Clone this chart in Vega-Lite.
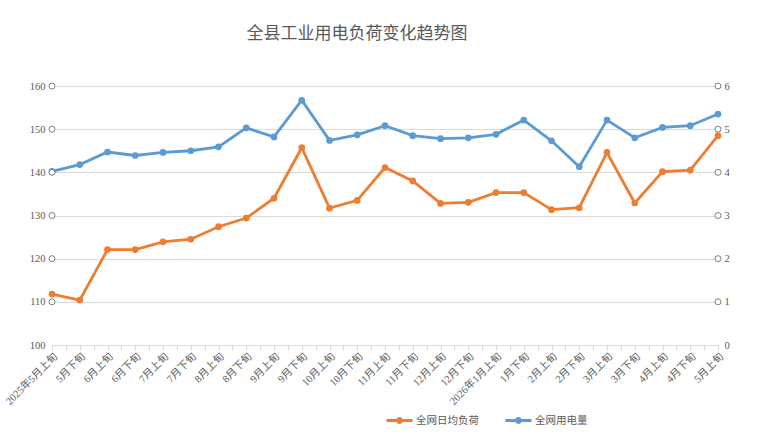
{
  "$schema": "https://vega.github.io/schema/vega-lite/v6.json",
  "width": 666,
  "height": 259,
  "autosize": "none",
  "padding": {"left": 52, "top": 86, "right": 50, "bottom": 94},
  "background": "white",
  "title": {
    "text": "全县工业用电负荷变化趋势图",
    "fontSize": 17,
    "font": "Noto Sans CJK SC",
    "fontWeight": "normal",
    "color": "#595959",
    "anchor": "middle",
    "dx": -28,
    "offset": 38
  },
  "config": {
    "view": {"stroke": null},
    "axis": {
      "labelColor": "#595959",
      "labelFont": "Liberation Serif, Noto Sans CJK SC",
      "labelFontSize": 10.5,
      "title": null,
      "domainColor": "#d9d9d9",
      "gridColor": "#d9d9d9",
      "tickColor": "#d9d9d9"
    }
  },
  "layer": [
    {
      "data": {
        "values": [
          {"t": "2025年5月上旬", "load": 111.8, "power": 4.02},
          {"t": "5月下旬", "load": 110.4, "power": 4.18},
          {"t": "6月上旬", "load": 122.1, "power": 4.47},
          {"t": "6月下旬", "load": 122.1, "power": 4.39},
          {"t": "7月上旬", "load": 123.9, "power": 4.46},
          {"t": "7月下旬", "load": 124.5, "power": 4.5},
          {"t": "8月上旬", "load": 127.4, "power": 4.59},
          {"t": "8月下旬", "load": 129.4, "power": 5.03},
          {"t": "9月上旬", "load": 134.0, "power": 4.82},
          {"t": "9月下旬", "load": 145.7, "power": 5.67},
          {"t": "10月上旬", "load": 131.7, "power": 4.74},
          {"t": "10月下旬", "load": 133.5, "power": 4.87},
          {"t": "11月上旬", "load": 141.1, "power": 5.08},
          {"t": "11月下旬", "load": 138.0, "power": 4.85},
          {"t": "12月上旬", "load": 132.8, "power": 4.78},
          {"t": "12月下旬", "load": 133.05, "power": 4.8},
          {"t": "2026年1月上旬", "load": 135.3, "power": 4.88},
          {"t": "1月下旬", "load": 135.3, "power": 5.21},
          {"t": "2月上旬", "load": 131.35, "power": 4.73},
          {"t": "2月下旬", "load": 131.8, "power": 4.13},
          {"t": "3月上旬", "load": 144.6, "power": 5.21},
          {"t": "3月下旬", "load": 132.9, "power": 4.8},
          {"t": "4月上旬", "load": 140.15, "power": 5.04},
          {"t": "4月下旬", "load": 140.5, "power": 5.08},
          {"t": "5月上旬", "load": 148.5, "power": 5.35}
        ]
      },
      "encoding": {
        "x": {
          "field": "t",
          "type": "ordinal",
          "sort": null,
          "scale": {
            "type": "point",
            "padding": 0,
            "domain": ["2025年5月上旬", "5月下旬", "6月上旬", "6月下旬", "7月上旬", "7月下旬", "8月上旬", "8月下旬", "9月上旬", "9月下旬", "10月上旬", "10月下旬", "11月上旬", "11月下旬", "12月上旬", "12月下旬", "2026年1月上旬", "1月下旬", "2月上旬", "2月下旬", "3月上旬", "3月下旬", "4月上旬", "4月下旬", "5月上旬"]
          },
          "axis": {
            "labelAngle": -45,
            "ticks": false,
            "domain": true,
            "grid": false,
            "labelPadding": 6,
            "labelOverlap": false
          }
        }
      },
      "layer": [
        {
          "mark": {"type": "line", "strokeWidth": 2.8, "point": {"filled": true, "size": 45, "opacity": 1}},
          "encoding": {
            "y": {
              "field": "load",
              "type": "quantitative",
              "scale": {"domain": [100, 160], "nice": false, "zero": false},
              "axis": {"orient": "left", "tickCount": 6, "grid": true, "domain": false, "ticks": false, "labelPadding": 7}
            },
            "color": {
              "datum": "全网日均负荷",
              "type": "nominal",
              "scale": {"domain": ["全网日均负荷", "全网用电量"], "range": ["#ED7D31", "#5B9BD5"]},
              "legend": {
                "orient": "none",
                "direction": "horizontal",
                "legendX": 341,
                "legendY": 328,
                "title": null,
                "padding": 0,
                "symbolType": "M-2,-0.23L2,-0.23L2,0.23L-2,0.23Z M0.54,0A0.54,0.54 0 1,1 -0.54,0A0.54,0.54 0 1,1 0.54,0Z",
                "symbolSize": 169,
                "symbolStrokeWidth": 0,
                "labelOffset": 10,
                "columnPadding": 26,
                "labelFont": "Noto Sans CJK SC",
                "labelFontSize": 10.5,
                "labelColor": "#595959",
                "encode": {
                  "symbols": {
                    "update": {
                      "fill": {"scale": "color", "field": "value"},
                      "stroke": {"value": "transparent"},
                      "opacity": {"value": 1}
                    }
                  }
                }
              }
            }
          }
        },
        {
          "mark": {"type": "line", "strokeWidth": 2.8, "point": {"filled": true, "size": 45, "opacity": 1}},
          "encoding": {
            "y": {
              "field": "power",
              "type": "quantitative",
              "scale": {"domain": [0, 6], "nice": false, "zero": false},
              "axis": {"orient": "right", "tickCount": 6, "grid": false, "domain": false, "ticks": false, "labelPadding": 6}
            },
            "color": {"datum": "全网用电量", "type": "nominal"}
          }
        }
      ],
      "resolve": {"scale": {"y": "independent"}}
    },
    {
      "data": {
        "values": [
          {"pos": 0, "v": 1}, {"pos": 0, "v": 2}, {"pos": 0, "v": 3}, {"pos": 0, "v": 4}, {"pos": 0, "v": 5}, {"pos": 0, "v": 6},
          {"pos": 24, "v": 1}, {"pos": 24, "v": 2}, {"pos": 24, "v": 3}, {"pos": 24, "v": 4}, {"pos": 24, "v": 5}, {"pos": 24, "v": 6}
        ]
      },
      "mark": {"type": "point", "filled": false, "fill": "white", "stroke": "#7f7f7f", "strokeWidth": 1, "size": 36, "opacity": 1},
      "encoding": {
        "x": {
          "field": "pos",
          "type": "quantitative",
          "scale": {"domain": [0, 24], "nice": false, "zero": false},
          "axis": {"orient": "bottom", "labels": false, "ticks": true, "tickSize": 5, "tickCount": 48, "domain": false, "grid": false}
        },
        "y": {
          "field": "v",
          "type": "quantitative",
          "scale": {"domain": [0, 6], "nice": false, "zero": false},
          "axis": null
        }
      }
    }
  ],
  "resolve": {"scale": {"x": "independent", "y": "independent"}}
}
